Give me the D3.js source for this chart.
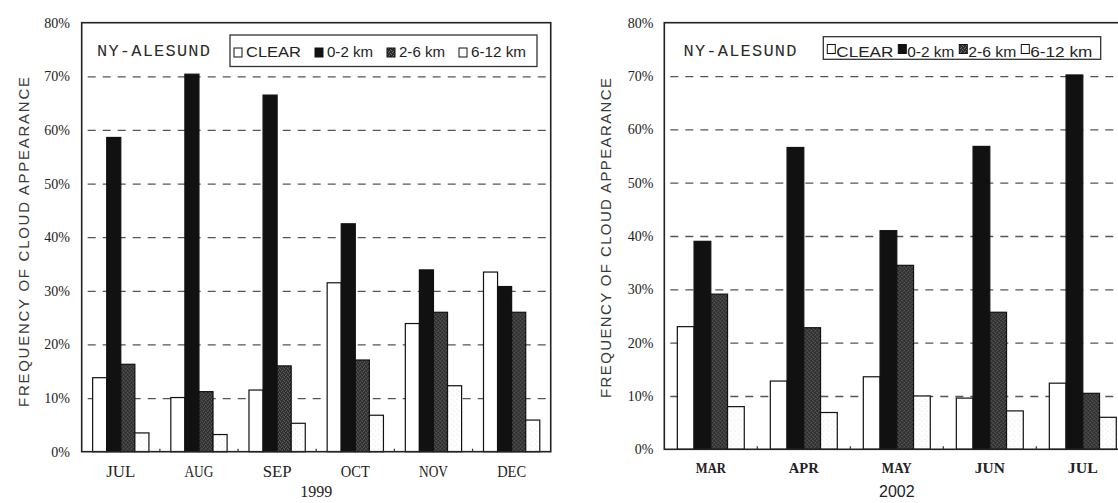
<!DOCTYPE html>
<html>
<head>
<meta charset="utf-8">
<script src="https://cdn.jsdelivr.net/npm/d3@7"></script>
<style>
  body { margin: 0; background: #fff; }
  svg { display: block; }
</style>
</head>
<body>
<svg id="chart"></svg>
<script>
///////////////////////////////////////////
// Data (in %)
var series = ["CLEAR", "0-2 km", "2-6 km", "6-12 km"];
var yTicks = [0, 10, 20, 30, 40, 50, 60, 70, 80];

var months1999 = ["JUL", "AUG", "SEP", "OCT", "NOV", "DEC"];
var clear1999  = [13.8, 10.1, 11.5, 31.5, 23.9, 33.5];
var low1999    = [58.6, 70.4, 66.5, 42.5, 33.9, 30.8];
var mid1999    = [16.3, 11.2, 16.0, 17.1, 26.0, 26.0];
var high1999   = [3.5, 3.2, 5.3, 6.8, 12.3, 5.9];

var months2002 = ["MAR", "APR", "MAY", "JUN", "JUL"];
var clear2002  = [23.0, 12.8, 13.6, 9.6, 12.4];
var low2002    = [39.0, 56.6, 41.0, 56.8, 70.2];
var mid2002    = [29.1, 22.8, 34.5, 25.7, 10.5];
var high2002   = [8.0, 6.9, 10.0, 7.2, 6.0];

///////////////////////////////////////////
// Layout
var svgWidth = 1118,
    svgHeight = 503;

var svg = d3.select("#chart").attr("width", svgWidth).attr("height", svgHeight);
svg.append("rect").attr("width", svgWidth).attr("height", svgHeight).attr("fill", "#fff");

// speckled fills, like the scanned halftone bars
var defs = svg.append("defs");
var dark = defs.append("pattern").attr("id", "speckDark")
  .attr("patternUnits", "userSpaceOnUse").attr("width", 4).attr("height", 4);
dark.append("rect").attr("width", 4).attr("height", 4).attr("fill", "#2c2c2c");
[[0, 0], [2, 1], [1, 3], [3, 2]].forEach(function(p) {
  dark.append("rect").attr("x", p[0]).attr("y", p[1]).attr("width", 1).attr("height", 1).attr("fill", "#6e6e6e");
});
var light = defs.append("pattern").attr("id", "speckLight")
  .attr("patternUnits", "userSpaceOnUse").attr("width", 5).attr("height", 5);
light.append("rect").attr("width", 5).attr("height", 5).attr("fill", "#fff");
[[1, 1], [3, 3]].forEach(function(p) {
  light.append("rect").attr("x", p[0]).attr("y", p[1]).attr("width", 1).attr("height", 1).attr("fill", "#e2e2e2");
});

var fills = ["#ffffff", "#111111", "url(#speckDark)", "url(#speckLight)"];

///////////////////////////////////////////
// One panel
function drawPanel(p) {
  var innerH = p.bottom - p.top,
      frameW = p.slots * p.step;

  var g = svg.append("g").attr("transform", "translate(" + p.left + "," + p.top + ")");

  var x0 = d3.scaleBand().domain(p.months)
    .range([0, p.months.length * p.step])
    .paddingInner(0.28).paddingOuter(0.14);
  var x1 = d3.scaleBand().domain(series).range([0, x0.bandwidth()]);
  var y = d3.scaleLinear().domain([0, 80]).range([innerH, 0]);

  // dashed grid
  var grid = g.append("g")
    .call(d3.axisLeft(y).tickValues(yTicks.filter(function(d) { return d > 0 && d < 80; }))
      .tickSize(-frameW).tickFormat(""));
  grid.select(".domain").remove();
  grid.selectAll("line")
    .attr("stroke", "#555").attr("stroke-width", 1.3)
    .attr("stroke-dasharray", "8,7").attr("stroke-dashoffset", -6);

  // bars
  var rows = p.months.map(function(m, i) {
    return { month: m, vals: p.values.map(function(v) { return v[i]; }) };
  });
  var grp = g.selectAll(".grp").data(rows).join("g").attr("class", "grp")
    .attr("transform", function(d) { return "translate(" + x0(d.month) + ",0)"; });
  grp.selectAll("rect")
    .data(function(d) { return d.vals.map(function(v, j) { return { key: series[j], v: v, j: j }; }); })
    .join("rect")
    .attr("x", function(d) { return x1(d.key); })
    .attr("y", function(d) { return y(d.v); })
    .attr("width", x1.bandwidth())
    .attr("height", function(d) { return innerH - y(d.v); })
    .attr("fill", function(d) { return fills[d.j]; })
    .attr("stroke", "#111").attr("stroke-width", 1.2);

  // frame
  g.append("rect").attr("width", frameW).attr("height", innerH)
    .attr("fill", "none").attr("stroke", "#222").attr("stroke-width", 1.6);

  // small ticks between month slots
  d3.range(1, p.slots).forEach(function(i) {
    g.append("line").attr("x1", i * p.step).attr("x2", i * p.step)
      .attr("y1", innerH).attr("y2", innerH - 3)
      .attr("stroke", "#333").attr("stroke-width", 1.2);
  });

  // y tick labels
  var yAx = g.append("g")
    .call(d3.axisLeft(y).tickValues(yTicks).tickFormat(function(d) { return d + "%"; })
      .tickSize(0).tickPadding(p.tickPad));
  yAx.select(".domain").remove();
  yAx.selectAll("text")
    .attr("font-family", "'Liberation Serif', serif").attr("font-size", 14)
    .attr("fill", "#222");

  // month labels
  var xAx = g.append("g").attr("transform", "translate(0," + innerH + ")")
    .call(d3.axisBottom(x0).tickSize(0).tickPadding(p.catPad));
  xAx.select(".domain").remove();
  xAx.selectAll("text")
    .attr("font-family", "'Liberation Serif', serif").attr("font-size", p.catSize)
    .attr("font-weight", p.catWeight).attr("fill", "#222")
    .attr("textLength", p.catWidth).attr("lengthAdjust", "spacingAndGlyphs");

  // year under the axis
  g.append("text")
    .attr("x", x0.range()[1] / 2).attr("y", p.yearY - p.top)
    .attr("text-anchor", "middle")
    .attr("font-family", p.yearFont).attr("font-size", 16).attr("fill", "#222")
    .text(p.year);

  // station name
  g.append("text")
    .attr("x", p.nameX - p.left).attr("y", 56 - p.top)
    .attr("font-family", "'Liberation Mono', monospace").attr("font-size", 17)
    .attr("textLength", 113).attr("lengthAdjust", "spacing")
    .attr("fill", "#2a2a2a").text("NY-ALESUND");

  // legend
  var L = p.legend;
  svg.append("rect").attr("x", L.x).attr("y", L.y).attr("width", L.w).attr("height", L.h)
    .attr("fill", "#fff").attr("stroke", "#333").attr("stroke-width", 1.3);
  var cx = L.x + L.pad;
  series.forEach(function(s, j) {
    svg.append("rect").attr("x", cx).attr("y", L.swY).attr("width", 8).attr("height", 9)
      .attr("fill", fills[j] === "url(#speckLight)" ? "#fff" : fills[j])
      .attr("stroke", "#111").attr("stroke-width", 1);
    svg.append("text").attr("x", cx + L.swGap).attr("y", L.textY)
      .attr("font-family", "'Liberation Sans', Arial, sans-serif").attr("font-size", L.size)
      .attr("textLength", L.widths[j]).attr("lengthAdjust", "spacingAndGlyphs")
      .attr("fill", "#222").text(s);
    cx += L.swGap + L.widths[j] + L.itemGap;
  });

  // y axis title
  svg.append("text")
    .attr("transform", "translate(" + p.titleX + "," + p.titleY + ") rotate(-90)")
    .attr("text-anchor", "middle").attr("dominant-baseline", "central")
    .attr("font-family", "'Liberation Sans', sans-serif").attr("font-size", 15)
    .attr("textLength", p.titleLen).attr("lengthAdjust", "spacing")
    .attr("fill", "#3a3a3a").text("FREQUENCY OF CLOUD APPEARANCE");
}

///////////////////////////////////////////
// 1999 panel
drawPanel({
  months: months1999, values: [clear1999, low1999, mid1999, high1999], year: "1999",
  left: 81.7, top: 22.7, bottom: 451.7, step: 78.17, slots: 6,
  tickPad: 11.7,
  catPad: 14, catSize: 16, catWeight: "normal", catWidth: 29,
  yearY: 497, yearFont: "'Liberation Serif', serif",
  nameX: 97,
  legend: { x: 230, y: 35, w: 307, h: 31.5, pad: 4, swY: 48, textY: 57,
            swGap: 12, itemGap: 14, size: 15, widths: [55, 46, 46, 55] },
  titleX: 23, titleY: 242, titleLen: 330
});

// 2002 panel (the last month runs off the right edge)
drawPanel({
  months: months2002, values: [clear2002, low2002, mid2002, high2002], year: "2002",
  left: 664.3, top: 22.7, bottom: 449.3, step: 93, slots: 6,
  tickPad: 11,
  catPad: 14, catSize: 14, catWeight: "bold", catWidth: 30,
  yearY: 497, yearFont: "'Liberation Sans', sans-serif",
  nameX: 683.5,
  legend: { x: 823.3, y: 36.7, w: 277.4, h: 22.6, pad: 4, swY: 44.5, textY: 56.5,
            swGap: 9, itemGap: 5, size: 15, widths: [57, 47, 48, 62] },
  titleX: 605, titleY: 238, titleLen: 320
});
</script>
</body>
</html>
